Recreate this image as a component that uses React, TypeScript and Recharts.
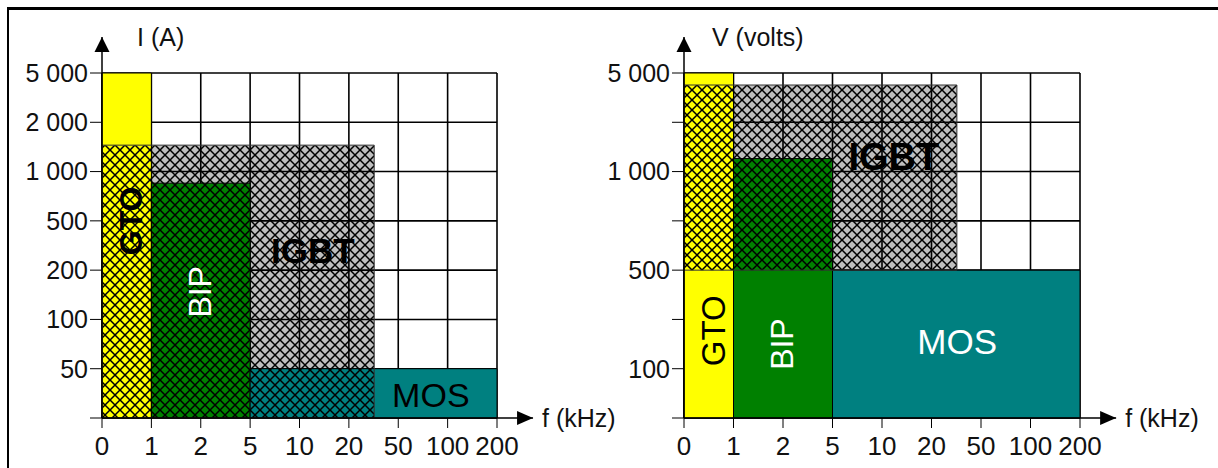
import React from 'react';
import {
  ComposedChart,
  XAxis,
  YAxis,
  CartesianGrid,
  ReferenceArea,
  ReferenceLine,
  ReferenceDot,
} from 'recharts';

// axis ticks (real values) and their printed labels
const freqTicks = [0, 1, 2, 5, 10, 20, 50, 100, 200];
const freqLabels = ['0', '1', '2', '5', '10', '20', '50', '100', '200'];
const currentTicks = [0, 50, 100, 200, 500, 1000, 2000, 5000];
const currentLabels = ['', '50', '100', '200', '500', '1 000', '2 000', '5 000'];
const voltageTicks = [0, 100, 200, 500, 700, 1000, 2000, 5000];
const voltageLabels = ['', '100', '', '500', '', '1 000', '', '5 000'];

// device operating zones
const devices = ['GTO', 'BIP', 'MOS', 'IGBT'];
const freqMin = [0, 1, 5, 0];
const freqMax = [1, 5, 200, 32];
const currentMin = [0, 0, 0, 0];
const currentMax = [5000, 850, 50, 1450];
const voltageMin = [0, 0, 0, 500];
const voltageMax = [5000, 1200, 500, 4000];

const FONT = '"Liberation Sans", Arial, sans-serif';
const fills: Record<string, string> = { GTO: '#ffff00', BIP: '#008000', MOS: '#008080' };

// piecewise log position of a value between the (uneven) ticks -> tick index
const toAxis = (v: number, ticks: number[]) => {
  for (let i = 0; i < ticks.length - 1; i++) {
    const a = ticks[i];
    const b = ticks[i + 1];
    if (v <= b) {
      if (a <= 0) return i + v / b;
      return i + Math.log(v / a) / Math.log(b / a);
    }
  }
  return ticks.length - 1;
};

interface Spot {
  x: number;
  y: number;
  rotate: boolean;
  color: string;
  bold: boolean;
  size: number;
}

const leftSpots: Spot[] = [
  { x: 0.59, y: 4.0, rotate: true, color: '#000', bold: true, size: 32 },
  { x: 1.98, y: 2.56, rotate: true, color: '#fff', bold: false, size: 32 },
  { x: 6.66, y: 0.47, rotate: false, color: '#000', bold: false, size: 34 },
  { x: 4.27, y: 3.39, rotate: false, color: '#000', bold: true, size: 35 },
];
const rightSpots: Spot[] = [
  { x: 0.59, y: 1.77, rotate: true, color: '#000', bold: false, size: 33 },
  { x: 1.97, y: 1.5, rotate: true, color: '#fff', bold: false, size: 32 },
  { x: 5.52, y: 1.56, rotate: false, color: '#fff', bold: false, size: 35 },
  { x: 4.24, y: 5.3, rotate: false, color: '#000', bold: true, size: 38 },
];

interface PanelProps {
  id: string;
  left: number;
  width: number;
  marginRight: number;
  yTicks: number[];
  yLabels: string[];
  yMin: number[];
  yMax: number[];
  yTitle: string;
  titleDx: number;
  spots: Spot[];
}

const Arrow = (props: any) => {
  const { x1, y1, x2, y2, title, dx } = props;
  const vertical = Math.abs(x2 - x1) < 1;
  const head = vertical
    ? `${x2},${y2} ${x2 - 7.5},${y2 + 15} ${x2 + 7.5},${y2 + 15}`
    : `${x2},${y2} ${x2 - 16},${y2 - 7} ${x2 - 16},${y2 + 7}`;
  return (
    <g>
      <line x1={x1} y1={y1} x2={x2} y2={y2} stroke="#000" strokeWidth={1.5} />
      <polygon points={head} fill="#000" />
      <text
        x={x2 + dx}
        y={y2}
        dominantBaseline="central"
        fontSize={25}
        fontFamily={FONT}
        fill="#111"
      >
        {title}
      </text>
    </g>
  );
};

const Panel: React.FC<PanelProps> = (p) => {
  const xMax = freqTicks.length - 1;
  const yMax = p.yTicks.length - 1;
  const hatch = `hatch-${p.id}`;
  const zone = (i: number) => ({
    x1: toAxis(freqMin[i], freqTicks),
    x2: toAxis(freqMax[i], freqTicks),
    y1: toAxis(p.yMin[i], p.yTicks),
    y2: toAxis(p.yMax[i], p.yTicks),
  });
  const igbt = devices.indexOf('IGBT');

  return (
    <div style={{ position: 'absolute', left: p.left, top: 0 }}>
      <ComposedChart
        width={p.width}
        height={468}
        margin={{ top: 73, right: p.marginRight, bottom: 0, left: 0 }}
      >
        <defs>
          <pattern id={hatch} patternUnits="userSpaceOnUse" width={10} height={10}>
            <path d="M-1,-1 L11,11 M11,-1 L-1,11" stroke="#000" strokeWidth={1.5} />
          </pattern>
        </defs>
        <XAxis
          type="number"
          dataKey="x"
          domain={[0, xMax]}
          allowDataOverflow
          ticks={freqTicks.map((_, i) => i)}
          interval={0}
          tickFormatter={(v: number) => freqLabels[v]}
          height={50}
          axisLine={false}
          stroke="#000"
          tickSize={10}
          tickMargin={9}
          tick={{ fontSize: 26, fill: '#111', fontFamily: FONT }}
        />
        <YAxis
          type="number"
          dataKey="y"
          domain={[0, yMax]}
          allowDataOverflow
          ticks={p.yTicks.map((_, i) => i)}
          interval={0}
          tickFormatter={(v: number) => p.yLabels[v]}
          width={102}
          axisLine={false}
          stroke="#000"
          tickSize={12}
          tickMargin={2}
          tick={{ fontSize: 25, fill: '#111', fontFamily: FONT }}
        />
        <CartesianGrid stroke="#000" strokeWidth={1.6} />

        {/* IGBT grey base, see-through so the grid stays visible */}
        <ReferenceArea {...zone(igbt)} fill="#000" fillOpacity={0.25} stroke="none" />
        {devices.map((d, i) =>
          d === 'IGBT' ? null : (
            <ReferenceArea
              key={d}
              {...zone(i)}
              fill={fills[d]}
              fillOpacity={1}
              stroke="#000"
              strokeWidth={1}
            />
          )
        )}
        {/* IGBT zone cross-hatch on top */}
        <ReferenceArea {...zone(igbt)} fill={`url(#${hatch})`} fillOpacity={1} stroke="#333" strokeWidth={1} />

        <ReferenceLine
          segment={[{ x: 0, y: 0 }, { x: 0, y: yMax + 0.73 }]}
          ifOverflow="visible"
          shape={(s: any) => <Arrow {...s} title={p.yTitle} dx={p.titleDx} />}
        />
        <ReferenceLine
          segment={[{ x: 0, y: 0 }, { x: xMax + 0.73, y: 0 }]}
          ifOverflow="visible"
          shape={(s: any) => <Arrow {...s} title="f (kHz)" dx={9} />}
        />

        {devices.map((d, i) => {
          const s = p.spots[i];
          return (
            <ReferenceDot
              key={`lbl-${d}`}
              x={s.x}
              y={s.y}
              r={0}
              ifOverflow="visible"
              shape={(q: any) => (
                <text
                  x={q.cx}
                  y={q.cy}
                  textAnchor="middle"
                  dominantBaseline="central"
                  fontSize={s.size}
                  fontWeight={s.bold ? 'bold' : 'normal'}
                  fontFamily={FONT}
                  fill={s.color}
                  transform={s.rotate ? `rotate(-90 ${q.cx} ${q.cy})` : undefined}
                >
                  {d}
                </text>
              )}
            />
          );
        })}
      </ComposedChart>
    </div>
  );
}

export default function App() {
  return (
    <div
      style={{
        position: 'absolute',
        left: 0,
        top: 0,
        width: 1218,
        height: 468,
        background: '#fff',
        overflow: 'hidden',
        fontFamily: FONT,
      }}
    >
      <div
        style={{
          position: 'absolute',
          left: 7,
          top: 7,
          width: 1220,
          height: 470,
          borderTop: '3px solid #000',
          borderLeft: '2px solid #000',
        }}
      />
      <Panel
        id="current"
        left={0}
        width={620}
        marginRight={123}
        yTicks={currentTicks}
        yLabels={currentLabels}
        yMin={currentMin}
        yMax={currentMax}
        yTitle="I (A)"
        titleDx={35}
        spots={leftSpots}
      />
      <Panel
        id="voltage"
        left={582}
        width={636}
        marginRight={138}
        yTicks={voltageTicks}
        yLabels={voltageLabels}
        yMin={voltageMin}
        yMax={voltageMax}
        yTitle="V (volts)"
        titleDx={28}
        spots={rightSpots}
      />
    </div>
  );
}
